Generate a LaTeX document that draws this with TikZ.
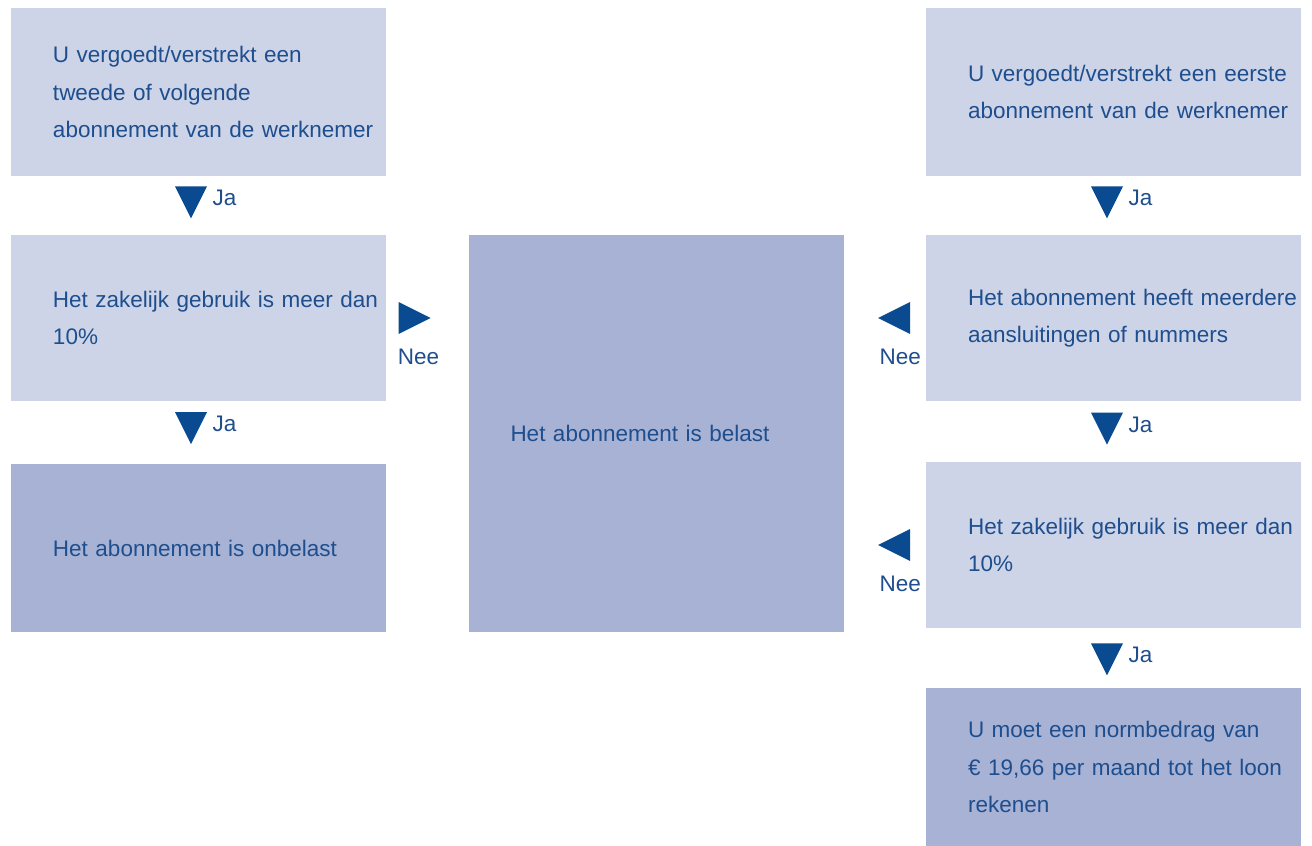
\documentclass[tikz,border=0pt]{standalone}
\usepackage{fontspec}
\setmainfont{Liberation Sans}
\usetikzlibrary{shapes.geometric}

\definecolor{lightfill}{RGB}{205,212,231}
\definecolor{darkfill}{RGB}{168,178,212}
\definecolor{textblue}{RGB}{30,78,142}
\definecolor{arrowblue}{RGB}{10,74,145}

\tikzset{
    flowbox/.style={rectangle, minimum width=7.5cm, text width=7.5cm, inner sep=0pt, align=left,
        text=textblue, font=\fontsize{12.8}{21.3}\selectfont,
        execute at begin node={\leftskip=0.84cm\relax}},
    light_box/.style={flowbox, fill=lightfill},
    dark_box/.style={flowbox, fill=darkfill},
    every label/.style={text=textblue, font=\fontsize{12.8}{16}\selectfont},
    marker/.style={isosceles triangle, isosceles triangle stretches, minimum width=0.64cm,
        minimum height=0.64cm, inner sep=0pt, fill=arrowblue},
    down_marker/.style={marker, shape border rotate=-90, label={[xshift=0.08cm, yshift=-0.04cm]right:Ja}},
    right_marker/.style={marker, shape border rotate=0, label={[xshift=0.2cm, yshift=-0.26cm]below:Nee}},
    left_marker/.style={marker, shape border rotate=180, label={[yshift=-0.26cm]below:Nee}}
}

\begin{document}
\begin{tikzpicture}
    \useasboundingbox (0,0) rectangle (26.24,-16.92);

    % linker kolom
    \node (second_sub) [light_box, minimum height=3.36cm] at (3.97,-1.84) {U vergoedt/verstrekt een\\tweede of volgende\\abonnement van de werknemer};
    \node (business_left) [light_box, minimum height=3.32cm] at (3.97,-6.36) {Het zakelijk gebruik is meer dan\\10\%};
    \node (untaxed) [dark_box, minimum height=3.36cm] at (3.97,-10.96) {Het abonnement is onbelast};

    % midden
    \node (taxed) [dark_box, minimum width=7.48cm, minimum height=7.94cm] at (13.12,-8.67) {Het abonnement is belast};

    % rechter kolom
    \node (first_sub) [light_box, minimum height=3.36cm] at (22.27,-1.84) {U vergoedt/verstrekt een eerste\\abonnement van de werknemer};
    \node (multiple_lines) [light_box, minimum height=3.32cm] at (22.27,-6.36) {Het abonnement heeft meerdere\\aansluitingen of nummers};
    \node (business_right) [light_box, minimum height=3.32cm] at (22.27,-10.90) {Het zakelijk gebruik is meer dan\\10\%};
    \node (norm_amount) [dark_box, minimum height=3.16cm] at (22.27,-15.34) {U moet een normbedrag van\\€ 19,66 per maand tot het loon\\rekenen};

    % ja-pijlen
    \path ([xshift=-0.15cm]second_sub.south) -- node[pos=0.34, down_marker] {} ([xshift=-0.15cm]business_left.north);
    \path ([xshift=-0.15cm]business_left.south) -- node[pos=0.33, down_marker] {} ([xshift=-0.15cm]untaxed.north);
    \path ([xshift=-0.13cm]first_sub.south) -- node[pos=0.34, down_marker] {} ([xshift=-0.13cm]multiple_lines.north);
    \path ([xshift=-0.13cm]multiple_lines.south) -- node[pos=0.35, down_marker] {} ([xshift=-0.13cm]business_right.north);
    \path ([xshift=-0.13cm]business_right.south) -- node[pos=0.42, down_marker] {} ([xshift=-0.13cm]norm_amount.north);

    % nee-pijlen
    \path (business_left.east) -- node[pos=0.27, right_marker] {} (business_left.east -| taxed.west);
    \path (multiple_lines.west) -- node[pos=0.31, left_marker] {} (multiple_lines.west -| taxed.east);
    \path (business_right.west) -- node[pos=0.31, left_marker] {} (business_right.west -| taxed.east);
\end{tikzpicture}
\end{document}
